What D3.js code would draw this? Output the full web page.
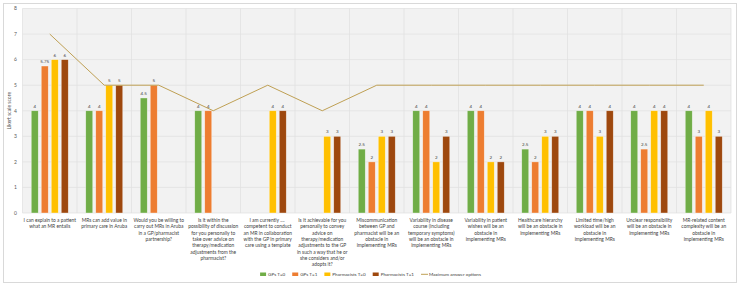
<!DOCTYPE html>
<html>
<head>
<meta charset="utf-8">
<script src="https://cdn.jsdelivr.net/npm/d3@7"></script>
<style>
  body { margin: 0; background: #fff; }
  text { font-family: Lato, "Open Sans", sans-serif; }
</style>
</head>
<body>
<svg id="chart" width="740" height="285"></svg>
<script>
// categories (line breaks as in the original chart)
var categories = [
  "I can explain to a patient|what an MR entails",
  "MRs can add value in|primary care in Aruba",
  "Would you be willing to|carry out MRs in Aruba|in a GP/pharmacist|partnership?",
  "Is it within the|possibility of discussion|for you personally to|take over advice on|therapy/medication|adjustments from the|pharmacist?",
  "I am currently .... |competent to conduct|an MR in collaboration|with the GP in primary|care using a template",
  "Is it achievable for you|personally to convey|advice on|therapy/medication|adjustments to the GP|in such a way that he or|she considers and/or|adopts it?",
  "Miscommunication|between GP and|pharmacist will be an|obstacle in|implementing MRs",
  "Variability in disease|course (including|temporary symptoms)|will be an obstacle in|implementing MRs",
  "Variability in patient|wishes will be an|obstacle in|implementing MRs",
  "Healthcare hierarchy|will be an obstacle in|implementing MRs",
  "Limited time/high|workload will be an|obstacle in|implementing MRs",
  "Unclear responsibility|will be an obstacle in|implementing MRs",
  "MR-related content|complexity will be an|obstacle in|implementing MRs"
];

var seriesNames = ["GPs T=0", "GPs T=1", "Pharmacists T=0", "Pharmacists T=1"];
var gpsT0   = [4, 4, 4.5, 4, null, null, 2.5, 4, 4, 2.5, 4, 4, 4];
var gpsT1   = [5.75, 4, 5, 4, null, null, 2, 4, 4, 2, 4, 2.5, 3];
var pharmT0 = [6, 5, null, null, 4, 3, 3, 2, 2, 3, 3, 4, 4];
var pharmT1 = [6, 5, null, null, 4, 3, 3, 3, 2, 3, 4, 4, 3];
var maxOptions = [7, 5, 5, 4, 5, 4, 5, 5, 5, 5, 5, 5, 5];
var lineName = "Maximum answer options";
var yTicks = [0, 1, 2, 3, 4, 5, 6, 7, 8];

var colors = ["#70ad47", "#ed7d31", "#ffc000", "#9e480e"];
var lineColor = "#bfa054";

var svg = d3.select("#chart");

// outer chart border
svg.append("rect")
  .attr("x", 3.5).attr("y", 3.5)
  .attr("width", 733).attr("height", 279)
  .attr("fill", "#fff")
  .attr("stroke", "#d9d9d9");

var plotL = 22.5, plotR = 731, plotT = 8.5, plotB = 213;

var x = d3.scaleBand()
  .domain(categories)
  .range([plotL, plotR])
  .padding(0);

var xs = d3.scaleBand()
  .domain(seriesNames)
  .range([0, x.bandwidth()])
  .paddingInner(0.3)
  .paddingOuter(0.875);

var y = d3.scaleLinear()
  .domain([0, 8])
  .range([plotB, plotT]);

// plot area
svg.append("rect")
  .attr("x", plotL).attr("y", plotT)
  .attr("width", plotR - plotL).attr("height", plotB - plotT)
  .attr("fill", "#f2f2f2");

// horizontal gridlines
svg.append("g")
  .selectAll("line")
  .data(yTicks)
  .enter().append("line")
  .attr("x1", plotL).attr("x2", plotR)
  .attr("y1", function(d) { return y(d); })
  .attr("y2", function(d) { return y(d); })
  .attr("stroke", "#e0e0e0")
  .attr("stroke-width", 0.7);

// vertical gridlines at category borders
var borders = categories.map(function(c) { return x(c); }).concat([plotR]);
svg.append("g")
  .selectAll("line")
  .data(borders)
  .enter().append("line")
  .attr("x1", function(d) { return d; })
  .attr("x2", function(d) { return d; })
  .attr("y1", plotT).attr("y2", plotB)
  .attr("stroke", "#e0e0e0")
  .attr("stroke-width", 0.7);

// y tick labels
svg.append("g")
  .selectAll("text")
  .data(yTicks)
  .enter().append("text")
  .attr("x", 17)
  .attr("y", function(d) { return y(d) + 1.8; })
  .attr("text-anchor", "end")
  .attr("font-size", 5)
  .attr("fill", "#595959")
  .text(function(d) { return d; });

// y axis title
svg.append("text")
  .attr("transform", "translate(11," + ((plotT + plotB) / 2) + ") rotate(-90)")
  .attr("text-anchor", "middle")
  .attr("font-size", 5)
  .attr("fill", "#595959")
  .text("Likert scale score");

// bars
var allSeries = [gpsT0, gpsT1, pharmT0, pharmT1];
var barData = [];
categories.forEach(function(c, i) {
  allSeries.forEach(function(s, j) {
    if (s[i] != null) barData.push({ cat: c, series: seriesNames[j], idx: j, value: s[i] });
  });
});

var bars = svg.append("g");
bars.selectAll("rect")
  .data(barData)
  .enter().append("rect")
  .attr("x", function(d) { return x(d.cat) + xs(d.series); })
  .attr("y", function(d) { return y(d.value); })
  .attr("width", xs.bandwidth())
  .attr("height", function(d) { return y(0) - y(d.value); })
  .attr("fill", function(d) { return colors[d.idx]; })
  .attr("stroke", "#fff")
  .attr("stroke-opacity", 0.6)
  .attr("stroke-width", 0.6);

bars.selectAll("text")
  .data(barData)
  .enter().append("text")
  .attr("x", function(d) { return x(d.cat) + xs(d.series) + xs.bandwidth() / 2; })
  .attr("y", function(d) { return y(d.value) - 3; })
  .attr("text-anchor", "middle")
  .attr("font-size", 4.5)
  .attr("fill", "#404040")
  .text(function(d) { return d.value; });

// maximum answer options line
var line = d3.line()
  .x(function(d, i) { return x(categories[i]) + x.bandwidth() / 2; })
  .y(function(d) { return y(d); });

svg.append("path")
  .datum(maxOptions)
  .attr("d", line)
  .attr("fill", "none")
  .attr("stroke", lineColor)
  .attr("stroke-width", 1);

// category labels
var labels = svg.append("g");
categories.forEach(function(c) {
  var t = labels.append("text")
    .attr("text-anchor", "middle")
    .attr("font-size", 4.9)
    .attr("fill", "#404040");
  c.split("|").forEach(function(part, k) {
    t.append("tspan")
      .attr("x", x(c) + x.bandwidth() / 2)
      .attr("y", 222 + k * 6.3)
      .text(part);
  });
});

// legend - laid out left to right using measured text widths, centred
var legendItems = seriesNames.map(function(n, i) {
  return { name: n, color: colors[i], type: "rect" };
}).concat([{ name: lineName, color: lineColor, type: "line" }]);

var lg = svg.append("g");
var cursor = 0;
legendItems.forEach(function(it) {
  var g = lg.append("g").attr("transform", "translate(" + cursor + ",0)");
  if (it.type === "rect") {
    g.append("rect")
      .attr("x", 0).attr("y", 272.5)
      .attr("width", 6).attr("height", 3.5)
      .attr("fill", it.color);
  } else {
    g.append("line")
      .attr("x1", 0).attr("x2", 7)
      .attr("y1", 274.3).attr("y2", 274.3)
      .attr("stroke", it.color).attr("stroke-width", 1);
  }
  var t = g.append("text")
    .attr("x", 8)
    .attr("y", 276)
    .attr("font-size", 4.6)
    .attr("fill", "#404040")
    .text(it.name);
  cursor += 8 + t.node().getComputedTextLength() + 7;
});
var legendW = cursor - 7;
lg.attr("transform", "translate(" + (370.5 - legendW / 2) + ",0)");
</script>
</body>
</html>
